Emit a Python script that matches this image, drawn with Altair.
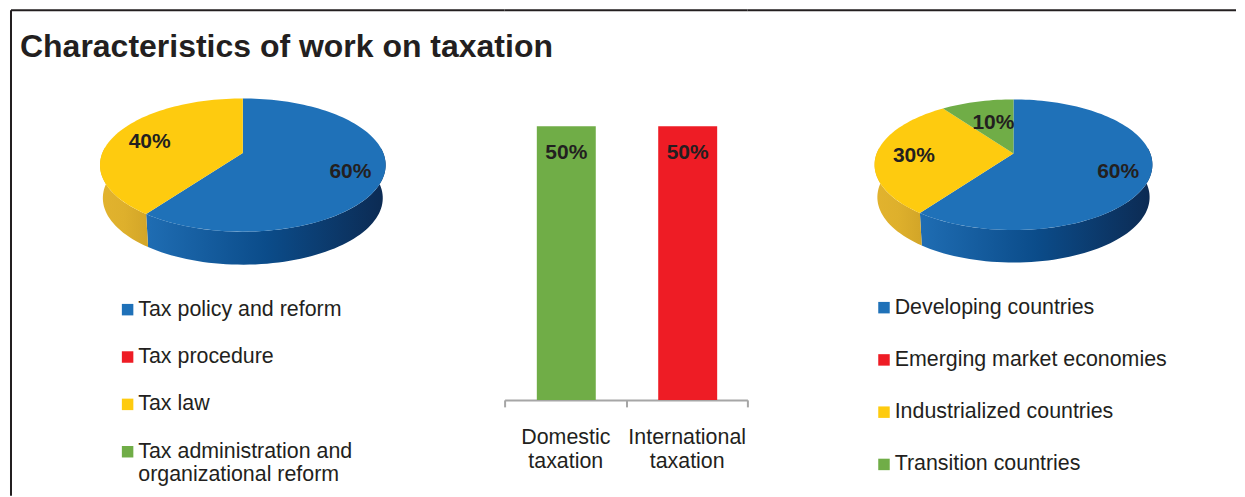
import math
import altair as alt
import pandas as pd

TITLE = "Characteristics of work on taxation"
FONT = "Liberation Sans"
INK = "#231f20"

# Left pie
L_CATS = ["Tax policy and reform", "Tax procedure", "Tax law", "Tax administration and organizational reform"]
L_SHARES = [60, 0, 40, 0]
# Right pie
R_CATS = ["Developing countries", "Emerging market economies", "Industrialized countries", "Transition countries"]
R_SHARES = [60, 0, 30, 10]
PIE_COLORS = ["#1f71b8", "#ee1c25", "#fecb0f", "#70ad47"]
# Bars
BAR_CATS = ["Domestic taxation", "International taxation"]
BAR_VALUES = [50, 50]
BAR_COLORS = ["#70ad47", "#ee1c25"]

SIDE_GRAD = {
    "#1f71b8": [("#1f6db3", 0), ("#0b4c8a", 0.5), ("#0c2a52", 1)],
    "#fecb0f": [("#e2b32e", 0), ("#deb02c", 0.5), ("#d2a528", 1)],
    "#70ad47": [("#5d9039", 0), ("#5d9039", 1)],
    "#ee1c25": [("#b5151c", 0), ("#b5151c", 1)],
}

PANEL_H = 390


def project(theta, r, rx, h, k):
    u, v = math.sin(theta) * r, -math.cos(theta) * r
    w = 1 / (1 - k * v)
    return rx * u * w, h * v * w


def pie(cats, shares, rx, h, k, depth, x_dom, y_dom, panel_w, legend_xy, rules):
    x_s = alt.Scale(domain=x_dom, nice=False, zero=False)
    y_s = alt.Scale(domain=y_dom, nice=False, zero=False)
    xe = alt.X("x:Q", scale=x_s, axis=None)
    ye = alt.Y("y:Q", scale=y_s, axis=None)
    tops, labels, sides = [], [], []
    cum = 0
    for cat, col, s in zip(cats, PIE_COLORS, shares):
        if s == 0:
            continue
        a0, a1 = cum * 3.6, (cum + s) * 3.6
        mid = math.radians((a0 + a1) / 2)
        lx, ly = project(mid, 0.75 if s >= 20 else 0.6, rx, h, k)
        labels.append({"x": lx, "y": ly, "t": f"{s}%"})
        steps = max(2, int((a1 - a0) / 2))
        pts = [(0.0, 0.0)] + [project(math.radians(a0 + (a1 - a0) * i / steps), 1, rx, h, k) for i in range(steps + 1)]
        for i, (x, y) in enumerate(pts):
            tops.append({"cat": cat, "i": i, "x": x, "y": y})
        b0, b1 = max(a0, 85), min(a1, 275)
        if b1 > b0:
            n = max(2, int((b1 - b0) / 2))
            arc = [project(math.radians(b0 + (b1 - b0) * i / n), 1, rx, h, k) for i in range(n + 1)]
            poly = arc + [(x * 0.98, y + depth) for x, y in reversed(arc)]
            sd = pd.DataFrame({"i": range(len(poly)), "x": [p[0] for p in poly], "y": [p[1] for p in poly]})
            grad = alt.Gradient(
                gradient="linear", x1=0, x2=1, y1=0, y2=0,
                stops=[alt.GradientStop(color=c, offset=o) for c, o in SIDE_GRAD[col]],
            )
            sides.append(alt.Chart(sd).mark_line(fill=grad, strokeWidth=0, interpolate="linear").encode(
                x=xe, y=ye, order="i:Q"))
        cum += s
    top = alt.Chart(pd.DataFrame(tops)).mark_line(strokeWidth=0).encode(
        x=xe, y=ye, order="i:Q", detail="cat:N",
        fill=alt.Fill("cat:N", scale=alt.Scale(domain=cats, range=PIE_COLORS), sort=cats, legend=alt.Legend(
            title=None, orient="none", legendX=legend_xy[0], legendY=legend_xy[1],
            symbolType="square", symbolSize=132, symbolStrokeWidth=0, symbolOpacity=1,
            labelFont=FONT, labelFontSize=21.4, labelColor=INK, labelLimit=400, labelOffset=0,
            rowPadding=legend_xy[2], columns=1,
            labelExpr="length(datum.label) > 30 ? ['Tax administration and', 'organizational reform'] : datum.label",
        )),
    )
    text = alt.Chart(pd.DataFrame(labels)).mark_text(
        font=FONT, fontWeight="bold", fontSize=21, color=INK, dx=3, dy=3
    ).encode(x=xe, y=ye, text="t:N")
    return alt.layer(*sides, top, text, *rules).properties(width=panel_w, height=PANEL_H)


one = pd.DataFrame({"a": [0]})
def hrule(w):
    return alt.Chart(one).mark_rule(color="#231f20", strokeWidth=2).encode(
        x=alt.value(0), x2=alt.value(w), y=alt.value(0))
def vrule(xp):
    return alt.Chart(one).mark_rule(color="#231f20", strokeWidth=2).encode(
        x=alt.value(xp), y=alt.value(0), y2=alt.value(486))

left = pie(L_CATS, L_SHARES, 140.6, 64.5, 0.18, 33, [-232, 262], [247, -143], 494,
           (106, 289, 24.4), [hrule(494), vrule(0)])
right = pie(R_CATS, R_SHARES, 136.9, 63.4, 0.174, 32.5, [-266.3, 222.7], [246.7, -143.3], 489,
            (126, 287, 29.3), [hrule(489)])

bars_df = pd.DataFrame({"cat": BAR_CATS, "v": BAR_VALUES, "c": BAR_COLORS, "t": [f"{v}%" for v in BAR_VALUES]})
bx = alt.X("cat:N", sort=BAR_CATS, scale=alt.Scale(paddingInner=0, paddingOuter=0), title=None, axis=alt.Axis(
    labelAngle=0, labelFont=FONT, labelFontSize=21.4, labelColor=INK, labelPadding=20, labelLineHeight=24,
    labelExpr="split(datum.label, ' ')", domainColor="#a6a6a6", domainWidth=2, tickColor="#a6a6a6",
    tickWidth=2, tickSize=7, tickBand="extent", labelLimit=200,
))
by = alt.Y("v:Q", scale=alt.Scale(domain=[0, 71.2], nice=False), axis=None)
bar = alt.Chart(bars_df).mark_bar(size=59, xOffset=1).encode(
    x=bx, y=by, fill=alt.Fill("c:N", scale=None))
bar_text = alt.Chart(bars_df).mark_text(
    font=FONT, fontWeight="bold", fontSize=21, color=INK, baseline="middle", dy=27, dx=1
).encode(x=bx, y=by, text="t:N")
middle = alt.layer(bar, bar_text, hrule(243)).properties(width=243, height=PANEL_H)

chart = alt.hconcat(left, middle, right, spacing=0, bounds="flush").resolve_scale(fill="independent").properties(
    padding={"left": 2, "top": 1, "right": 0, "bottom": 0},
    title=alt.TitleParams(TITLE, anchor="start", frame="group", offset=-80, dx=9, font=FONT, fontSize=32,
                          fontWeight="bold", color=INK, baseline="alphabetic"),
).configure_view(stroke=None)

chart.save("out.html", embed_options={"renderer": "svg", "actions": False})
